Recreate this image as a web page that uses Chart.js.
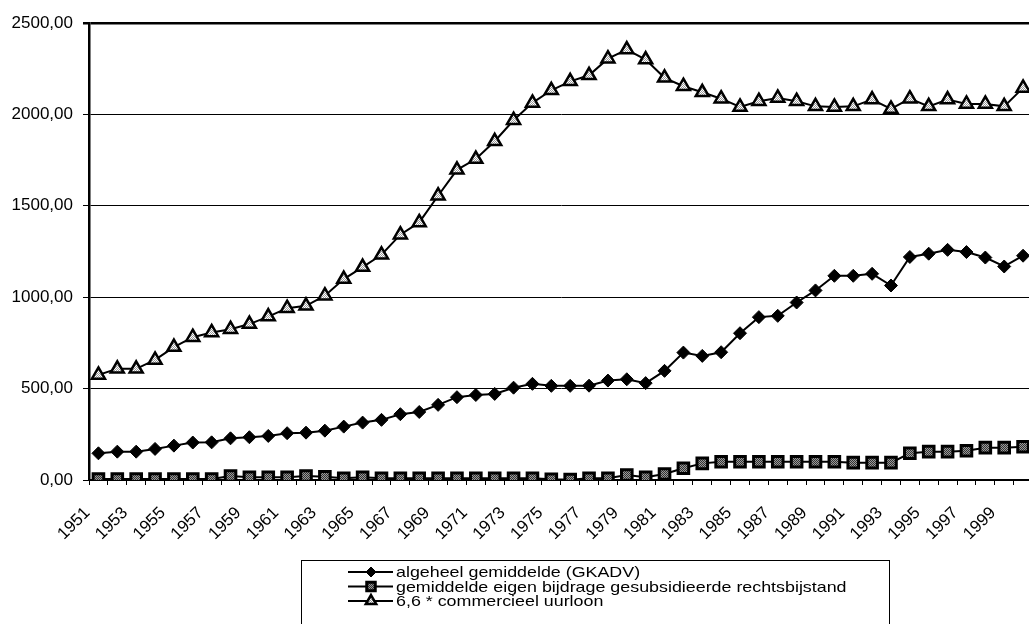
<!DOCTYPE html>
<html>
<head>
<meta charset="utf-8">
<script src="https://cdn.jsdelivr.net/npm/chart.js@4.4.1/dist/chart.umd.min.js"></script>
<style>
  html, body { margin: 0; padding: 0; background: #fff; overflow: hidden; }
  #wrap { position: relative; width: 1043px; height: 624px; }
</style>
</head>
<body>
<div id="wrap"><canvas id="lineChart"></canvas></div>
<script>
const years = ['1951', '1952', '1953', '1954', '1955', '1956', '1957', '1958', '1959', '1960',
    '1961', '1962', '1963', '1964', '1965', '1966', '1967', '1968', '1969', '1970',
    '1971', '1972', '1973', '1974', '1975', '1976', '1977', '1978', '1979', '1980',
    '1981', '1982', '1983', '1984', '1985', '1986', '1987', '1988', '1989', '1990',
    '1991', '1992', '1993', '1994', '1995', '1996', '1997', '1998', '1999', '2000'];

// only every other year gets a label on the x axis
const shownYears = ['1951', '1953', '1955', '1957', '1959', '1961', '1963', '1965', '1967', '1969',
    '1971', '1973', '1975', '1977', '1979', '1981', '1983', '1985', '1987', '1989',
    '1991', '1993', '1995', '1997', '1999'];

const algeheel = [146, 155, 155, 170, 188, 205, 206, 228, 234, 241,
    256, 259, 270, 292, 314, 329, 360, 372, 411, 453,
    465, 471, 505, 526, 515, 515, 516, 544, 551, 530,
    597, 697, 679, 699, 803, 891, 898, 971, 1037, 1117,
    1117, 1128, 1064, 1220, 1238, 1259, 1247, 1217, 1168, 1227];

const eigenBijdrage = [5, 5, 5, 5, 5, 5, 5, 22, 15, 15,
    15, 22, 18, 9, 15, 9, 9, 9, 9, 9,
    9, 9, 9, 9, 4, 2, 9, 9, 27, 15,
    33, 64, 91, 100, 100, 100, 100, 100, 100, 100,
    95, 95, 95, 146, 155, 155, 160, 177, 177, 182];

const uurloon = [575, 608, 608, 657, 727, 781, 807, 825, 853, 894,
    940, 953, 1008, 1099, 1165, 1232, 1342, 1409, 1555, 1697,
    1756, 1853, 1968, 2063, 2132, 2181, 2214, 2305, 2355, 2300,
    2200, 2154, 2121, 2086, 2041, 2072, 2090, 2072, 2044, 2041,
    2044, 2081, 2030, 2086, 2044, 2081, 2057, 2057, 2044, 2145];

const seriesLabels = ['algeheel gemiddelde (GKADV)',
    'gemiddelde eigen bijdrage gesubsidieerde rechtsbijstand',
    '6,6 * commercieel uurloon'];

const FONT = '"Liberation Sans", Arial, sans-serif';

// small dithered fills like the old excel markers
function dither(c1, c2) {
    const p = document.createElement('canvas');
    p.width = 2; p.height = 2;
    const g = p.getContext('2d');
    g.fillStyle = c1; g.fillRect(0, 0, 2, 2);
    g.fillStyle = c2; g.fillRect(0, 0, 1, 1); g.fillRect(1, 1, 1, 1);
    return g.createPattern(p, 'repeat');
}

const boxLegend = {
    id: 'boxLegend',
    afterDraw(chart) {
        const ctx = chart.ctx;
        ctx.save();
        ctx.strokeStyle = '#000';
        ctx.lineWidth = 1;
        ctx.strokeRect(301.5, 560.5, 588, 90);
        chart.data.datasets.forEach((ds, i) => {
            const y = 572 + i * 14.5;
            ctx.strokeStyle = '#000';
            ctx.lineWidth = 2;
            ctx.beginPath();
            ctx.moveTo(348, y);
            ctx.lineTo(393, y);
            ctx.stroke();
            ctx.fillStyle = ds.pointBackgroundColor;
            ctx.strokeStyle = ds.pointBorderColor;
            ctx.lineWidth = ds.pointBorderWidth;
            Chart.helpers.drawPoint(ctx, {
                pointStyle: ds.pointStyle,
                radius: ds.pointRadius - 1.5,
                borderWidth: ds.pointBorderWidth
            }, 371, y);
            // text is a bit wide in the original, so stretch it sideways
            ctx.save();
            ctx.translate(396, y + 1);
            ctx.scale(1.19, 1);
            ctx.fillStyle = '#000';
            ctx.font = '15px ' + FONT;
            ctx.textBaseline = 'middle';
            ctx.textAlign = 'left';
            ctx.fillText(ds.label, 0, 0);
            ctx.restore();
        });
        ctx.restore();
    }
};

function loadLineChart() {
    const lineChart = new Chart(document.getElementById('lineChart'), {
        type: 'line',
        data: {
            labels: years,
            datasets: [{
                label: seriesLabels[0],
                data: algeheel,
                borderColor: '#000',
                borderWidth: 2,
                pointStyle: 'rectRot',
                pointRadius: 6.5,
                pointBackgroundColor: '#000',
                pointBorderColor: '#000',
                pointBorderWidth: 1
            }, {
                label: seriesLabels[1],
                data: eigenBijdrage,
                borderColor: '#000',
                borderWidth: 2,
                pointStyle: 'rect',
                pointRadius: 7.5,
                pointBackgroundColor: dither('#9a9a9a', '#333'),
                pointBorderColor: '#000',
                pointBorderWidth: 3
            }, {
                label: seriesLabels[2],
                data: uurloon,
                borderColor: '#000',
                borderWidth: 2,
                pointStyle: 'triangle',
                pointRadius: 7.5,
                pointBackgroundColor: dither('#ffffff', '#999999'),
                pointBorderColor: '#000',
                pointBorderWidth: 2.5
            }]
        },
        options: {
            responsive: true,
            maintainAspectRatio: false,
            animation: false,
            layout: { padding: { left: 12, top: 23, right: 1, bottom: 0 } },
            plugins: {
                legend: { display: false },
                tooltip: { enabled: false }
            },
            elements: { line: { tension: 0 } },
            scales: {
                x: {
                    offset: true,
                    afterFit: scale => {
                        scale.height = 144;
                        scale.paddingLeft = 0;
                        scale.paddingRight = 0;
                    },
                    grid: {
                        offset: true,
                        drawOnChartArea: false,
                        drawTicks: true,
                        tickLength: 5,
                        color: '#000'
                    },
                    border: { display: true, color: '#000', width: 2 },
                    ticks: {
                        autoSkip: false,
                        maxRotation: 45,
                        minRotation: 45,
                        padding: 18,
                        labelOffset: -11,
                        color: '#000',
                        font: { family: FONT, size: 17 },
                        callback: function (value) {
                            const lab = this.getLabelForValue(value);
                            return shownYears.includes(lab) ? lab : '';
                        }
                    }
                },
                y: {
                    min: 0,
                    max: 2500,
                    afterFit: scale => { scale.width = 77; },
                    grid: {
                        color: '#000',
                        lineWidth: c => (c.tick && c.tick.value === 2500 ? 2.5 : 1),
                        tickLength: 6
                    },
                    border: { display: true, color: '#000', width: 2.5 },
                    ticks: {
                        stepSize: 500,
                        padding: 10,
                        color: '#000',
                        font: { family: FONT, size: 17 },
                        callback: value => value.toFixed(2).replace('.', ',')
                    }
                }
            }
        },
        plugins: [boxLegend]
    });
}

loadLineChart();
</script>
</body>
</html>
